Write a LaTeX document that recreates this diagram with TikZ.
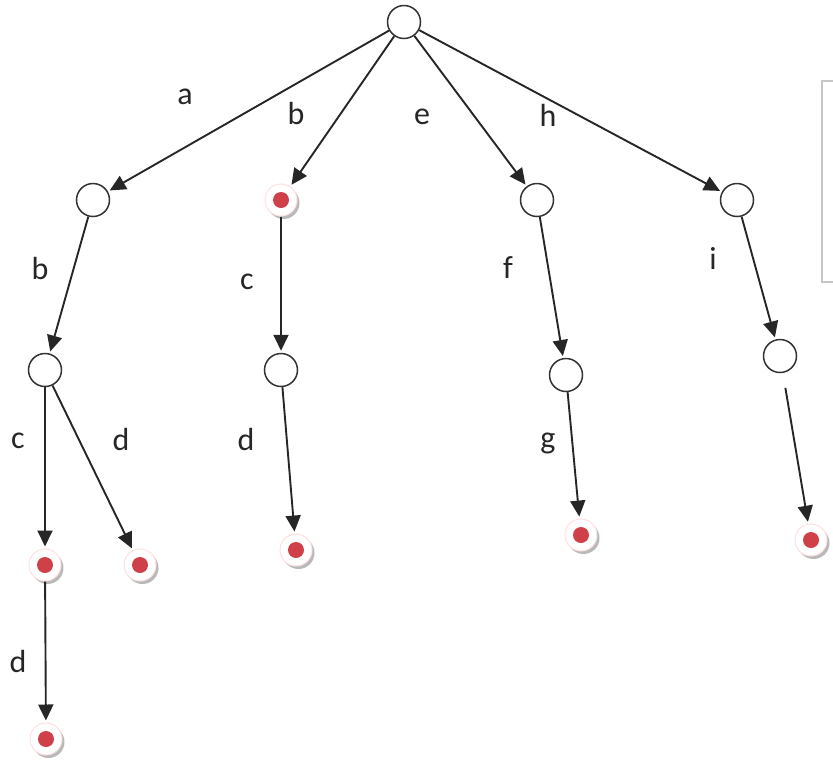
\documentclass[tikz,border=0pt]{standalone}
\usepackage{fontspec}
\setmainfont{Carlito}
\usetikzlibrary{arrows.meta, shadows}
\definecolor{dotred}{RGB}{208,64,72}

\begin{document}
\begin{tikzpicture}[x=1pt, y=-1pt,
  state/.style={circle, draw=black!80, line width=1.5pt, minimum size=33pt, inner sep=0pt, fill=white},
  final/.style={circle, draw=red!12, line width=1pt, minimum size=32pt, inner sep=0pt, fill=white,
    drop shadow={shadow xshift=2.5pt, shadow yshift=-3pt, opacity=0.55},
    path picture={\fill[dotred] (path picture bounding box.center) circle (8pt);}},
  trans/.style={-{Triangle[length=16pt,width=15pt]}, line width=1.9pt, black!85, shorten >=2pt},
  lbl/.style={font=\fontsize{32}{38}\selectfont, text=black!85}]
\useasboundingbox (0,0) rectangle (833,772);

% the grey box cut off at the right edge
\draw[gray!45, line width=1.5pt] (833,81) -- (822,81) -- (822,282) -- (833,282);

% states
\node[state] (root) at (404,22) {};
\node[state] (na) at (93,200) {};
\node[final] (nb) at (281,200) {};
\node[state] (ne) at (537,200) {};
\node[state] (nh) at (737,200) {};
\node[state] (nab) at (45,370) {};
\node[state] (nbc) at (281,370) {};
\node[state] (nef) at (566,375) {};
\node[state] (nhi) at (780,356) {};
\node[final] (nabc) at (45,565) {};
\node[final] (nabd) at (140,565) {};
\node[final] (nbcd) at (296,550) {};
\node[final] (nefg) at (581,535) {};
\node[final] (nhij) at (811,540) {};
\node[final] (nabcd) at (46,739) {};

% transitions
\draw[trans] (root) -- (na);
\draw[trans] (root) -- (nb);
\draw[trans] (root) -- (ne);
\draw[trans] (root) -- (nh);
\draw[trans] (na) -- (nab);
\draw[trans] (nb) -- (nbc);
\draw[trans] (ne) -- (nef);
\draw[trans] (nh) -- (nhi);
\draw[trans] (nab) -- (nabc);
\draw[trans] (nab) -- (nabd);
\draw[trans] (nbc) -- (nbcd);
\draw[trans] (nef) -- (nefg);
\draw[trans, shorten <=15pt] (nhi) -- (nhij);
\draw[trans] (nabc) -- (nabcd);

% labels
\node[lbl] (la) at (185,97) {a};
\node[lbl] (lb) at (296,113) {b};
\node[lbl] (le) at (422,117) {e};
\node[lbl] (lh) at (548,115) {h};
\node[lbl] (lab) at (40,268) {b};
\node[lbl] (lbc) at (247,282) {c};
\node[lbl] (lef) at (508,268) {f};
\node[lbl] (lhi) at (713,258) {i};
\node[lbl] (labc) at (18,441) {c};
\node[lbl] (labd) at (121,439) {d};
\node[lbl] (lbcd) at (246,439) {d};
\node[lbl] (lefg) at (548,443) {g};
\node[lbl] (labcd) at (18,661) {d};
\end{tikzpicture}
\end{document}
